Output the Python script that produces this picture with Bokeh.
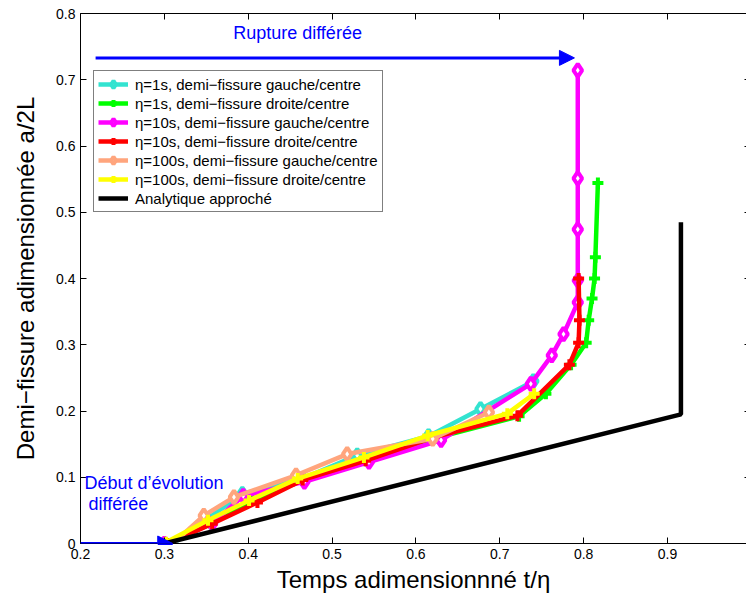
from bokeh.plotting import figure
from bokeh.models import (Range1d, FixedTicker, LinearAxis, Label, Arrow,
                          NormalHead, CustomJSTickFormatter)
from bokeh.embed import file_html
from bokeh.resources import INLINE

# ---------------- data ----------------
x_ticks = [0.2, 0.3, 0.4, 0.5, 0.6, 0.7, 0.8, 0.9]
y_ticks = [0.0, 0.1, 0.2, 0.3, 0.4, 0.5, 0.6, 0.7, 0.8]

series_labels = [
    "η=1s, demi−fissure gauche/centre",
    "η=1s, demi−fissure droite/centre",
    "η=10s, demi−fissure gauche/centre",
    "η=10s, demi−fissure droite/centre",
    "η=100s, demi−fissure gauche/centre",
    "η=100s, demi−fissure droite/centre",
]
analytic_label = "Analytique approché"

t_eta1_gauche = [0.305, 0.350, 0.393, 0.465, 0.530, 0.615, 0.677, 0.740]
a_eta1_gauche = [-0.005, 0.036, 0.075, 0.098, 0.133, 0.162, 0.203, 0.245]

t_eta1_droite = [0.305, 0.355, 0.405, 0.465, 0.540, 0.620, 0.723, 0.755,
                 0.785, 0.803, 0.806, 0.810, 0.813, 0.814, 0.817]
a_eta1_droite = [0.000, 0.030, 0.065, 0.095, 0.125, 0.158, 0.192, 0.226,
                 0.270, 0.303, 0.337, 0.370, 0.400, 0.432, 0.544]

t_eta10_gauche = [0.300, 0.357, 0.394, 0.467, 0.544, 0.630, 0.737, 0.762,
                  0.776, 0.793, 0.793, 0.793, 0.793, 0.793]
a_eta10_gauche = [0.000, 0.030, 0.072, 0.093, 0.123, 0.156, 0.241, 0.284,
                  0.316, 0.364, 0.397, 0.474, 0.551, 0.714]

t_eta10_droite = [0.305, 0.357, 0.411, 0.465, 0.540, 0.620, 0.721, 0.783,
                  0.794, 0.795, 0.794]
a_eta10_droite = [0.000, 0.030, 0.062, 0.096, 0.125, 0.160, 0.193, 0.270,
                  0.303, 0.337, 0.400]

t_eta100_gauche = [0.305, 0.347, 0.383, 0.457, 0.518, 0.620, 0.687]
a_eta100_gauche = [-0.006, 0.042, 0.070, 0.103, 0.135, 0.158, 0.198]

t_eta100_droite = [0.302, 0.352, 0.401, 0.459, 0.538, 0.614, 0.709, 0.741]
a_eta100_droite = [0.002, 0.035, 0.065, 0.098, 0.130, 0.163, 0.196, 0.226]

t_analytic = [0.300, 0.916, 0.916]
a_analytic = [0.000, 0.195, 0.485]

# annotation arrows (data coordinates)
rupture_arrow_t = [0.218, 0.789]
rupture_arrow_a = [0.733, 0.733]
debut_arrow_t = [0.200, 0.310]
debut_arrow_a = [0.000, 0.000]

# ---------------- styling ----------------
colors = ["#33E3D0", "#00FF00", "#FF00FF", "#FF0000", "#FFA57D", "#FFFF00"]
marker_kinds = ["diamond", "plus", "diamond", "plus", "diamond", "plus"]
FONT = "Liberation Sans"

series_t = [t_eta1_gauche, t_eta1_droite, t_eta10_gauche, t_eta10_droite,
            t_eta100_gauche, t_eta100_droite]
series_a = [a_eta1_gauche, a_eta1_droite, a_eta10_gauche, a_eta10_droite,
            a_eta100_gauche, a_eta100_droite]

p = figure(width=746, height=600,
           x_range=Range1d(0.2, 0.9942), y_range=Range1d(0.0, 0.8),
           output_backend="svg", toolbar_location=None,
           min_border_left=80, min_border_right=0,
           min_border_top=13, min_border_bottom=57)
p.grid.visible = False
p.outline_line_color = None
p.background_fill_color = "white"
p.border_fill_color = "white"

for t, a, c, m, lbl in zip(series_t, series_a, colors, marker_kinds, series_labels):
    p.line(t, a, line_color=c, line_width=4.5, legend_label=lbl)
    if m == "diamond":
        p.scatter(t, a, marker="diamond", size=13,
                  line_color=c, fill_color="white", line_width=4,
                  legend_label=lbl)
    else:
        p.scatter(t, a, marker="cross", size=11, line_color=c,
                  line_width=4, legend_label=lbl)

p.line(t_analytic, a_analytic, line_color="black", line_width=4.5,
       legend_label=analytic_label)

# arrows and texts
p.add_layout(Arrow(end=NormalHead(size=15, fill_color="#0000FF", line_color="#0000FF"),
                   x_start=rupture_arrow_t[0], y_start=rupture_arrow_a[0],
                   x_end=rupture_arrow_t[1], y_end=rupture_arrow_a[1],
                   line_color="#0000FF", line_width=3))
p.add_layout(Arrow(end=NormalHead(size=15, fill_color="#0000FF", line_color="#0000FF"),
                   x_start=debut_arrow_t[0], y_start=debut_arrow_a[0],
                   x_end=debut_arrow_t[1], y_end=debut_arrow_a[1],
                   line_color="#0000FF", line_width=3))

p.add_layout(Label(x=0.4588, y=0.770, text="Rupture différée",
                   text_align="center", text_baseline="middle",
                   text_font=FONT, text_font_size="18px", text_color="#0000FF"))
p.add_layout(Label(x=0.2048, y=0.0906, text="Début d’évolution",
                   text_align="left", text_baseline="middle",
                   text_font=FONT, text_font_size="18px", text_color="#0000FF"))
p.add_layout(Label(x=0.2095, y=0.0596, text="différée",
                   text_align="left", text_baseline="middle",
                   text_font=FONT, text_font_size="18px", text_color="#0000FF"))

# axes
xa = p.xaxis[0]
xa.ticker = FixedTicker(ticks=x_ticks)
xa.axis_label = "Temps adimensionnné t/η"
ya = p.yaxis[0]
ya.ticker = FixedTicker(ticks=y_ticks)
ya.major_label_overrides = {0: "0"}
ya.axis_label = "Demi−fissure adimensionnée a/2L"
for ax in (xa, ya):
    ax.major_tick_in = 6
    ax.major_tick_out = 0
    ax.minor_tick_line_color = None
    ax.axis_line_color = "black"
    ax.major_tick_line_color = "black"
    ax.major_label_text_font = FONT
    ax.major_label_text_font_size = "14px"
    ax.major_label_text_color = "black"
    ax.axis_label_text_font = FONT
    ax.axis_label_text_font_size = "24px"
    ax.axis_label_text_font_style = "normal"
    ax.axis_label_text_color = "black"
xa.major_label_standoff = 5
xa.axis_label_standoff = 4
ya.major_label_standoff = 5
ya.axis_label_standoff = 14

top = LinearAxis(ticker=FixedTicker(ticks=x_ticks),
                 formatter=CustomJSTickFormatter(code="return ''"),
                 major_tick_in=6, major_tick_out=0, minor_tick_line_color=None,
                 major_label_standoff=0, major_label_text_font_size="0px",
                 axis_line_color="black")
p.add_layout(top, "above")

right = LinearAxis(ticker=FixedTicker(ticks=y_ticks),
                   formatter=CustomJSTickFormatter(code="return ''"),
                   major_tick_in=2, major_tick_out=0, minor_tick_line_color=None,
                   major_label_standoff=0, major_label_text_font_size="0px",
                   axis_line_color=None)
p.add_layout(right, "right")

# legend
lg = p.legend[0]
lg.location = (13, 331)
lg.border_line_color = "black"
lg.border_line_width = 1
lg.background_fill_color = "white"
lg.background_fill_alpha = 1
lg.padding = 4
lg.spacing = 1
lg.margin = 0
lg.label_height = 18
lg.glyph_height = 18
lg.glyph_width = 30
lg.label_standoff = 7
lg.label_text_font = FONT
lg.label_text_font_size = "15px"
lg.label_text_color = "black"

open("out.html", "w").write(file_html(p, INLINE))
